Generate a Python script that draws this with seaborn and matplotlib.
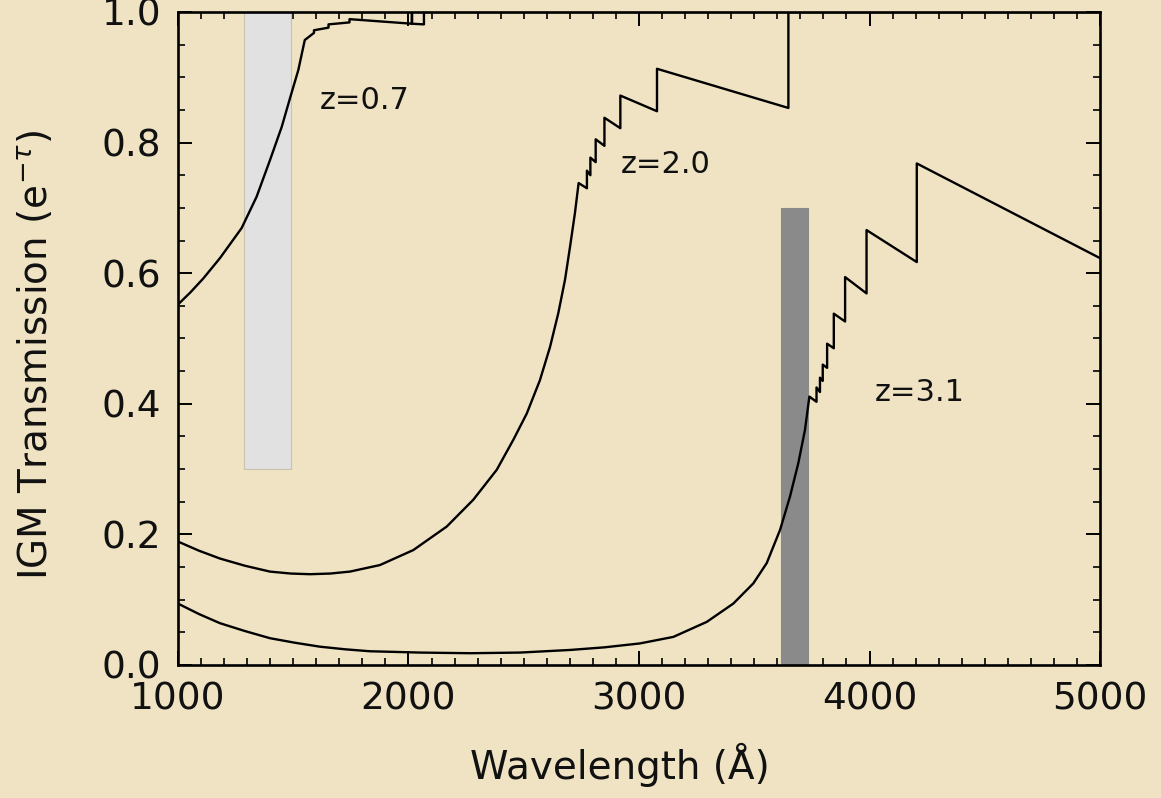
import matplotlib.pyplot as plt
import numpy as np
import pandas as pd
import seaborn as sns
from matplotlib.ticker import MultipleLocator

# IGM transmission curves (wavelength in Angstrom)
lam_z07 = [1000, 1055, 1110, 1182, 1276, 1341, 1399, 1450, 1486, 1522, 1550,
           1590, 1590, 1653, 1653, 1744, 1744, 2015, 2015, 2015, 2067, 2067, 5000]
trans_z07 = [0.552, 0.571, 0.592, 0.623, 0.669, 0.717, 0.773, 0.824, 0.868, 0.911, 0.957,
             0.968, 0.972, 0.976, 0.981, 0.984, 0.989, 0.982, 1.0, 0.982, 0.981, 1.0, 1.0]

lam_z20 = [1000, 1091, 1182, 1290, 1399, 1490, 1573, 1660, 1746, 1876, 2021, 2166, 2281,
           2383, 2455, 2513, 2570, 2614, 2650, 2679, 2701, 2722, 2738,
           2774, 2774, 2789, 2789, 2812, 2812, 2850, 2850, 2919, 2919, 3078, 3078,
           3648, 3648, 5000]
trans_z20 = [0.189, 0.175, 0.163, 0.152, 0.143, 0.140, 0.139, 0.140, 0.143, 0.153, 0.176, 0.212, 0.253,
             0.299, 0.345, 0.385, 0.436, 0.487, 0.539, 0.590, 0.641, 0.692, 0.738,
             0.730, 0.757, 0.750, 0.777, 0.770, 0.805, 0.795, 0.838, 0.822, 0.872, 0.848, 0.913,
             0.853, 1.0, 1.0]

lam_z31 = [1000, 1091, 1182, 1290, 1399, 1508, 1616, 1725, 1833, 2050, 2267, 2484, 2701, 2850,
           3004, 3149, 3294, 3409, 3496, 3554, 3612, 3655, 3691, 3720, 3739,
           3770, 3770, 3785, 3785, 3797, 3797, 3816, 3816, 3845, 3845, 3894, 3894,
           3987, 3987, 4205, 4205, 5000]
trans_z31 = [0.094, 0.078, 0.064, 0.052, 0.041, 0.034, 0.028, 0.024, 0.021, 0.019, 0.018, 0.019, 0.023, 0.027,
             0.033, 0.043, 0.066, 0.094, 0.125, 0.156, 0.207, 0.258, 0.309, 0.360, 0.411,
             0.403, 0.425, 0.418, 0.440, 0.435, 0.460, 0.455, 0.492, 0.485, 0.538, 0.526, 0.594,
             0.569, 0.666, 0.617, 0.768, 0.623]

# shaded filter bands: left edge, right edge, bottom, top
band_left = [1285, 3615]
band_right = [1490, 3735]
band_bottom = [0.3, 0.0]
band_top = [1.0, 0.7]
band_colors = ["#e1e1e1", "#8a8a8a"]

labels = ["z=0.7", "z=2.0", "z=3.1"]
label_x = [1811, 3117, 4219]
label_y = [0.865, 0.766, 0.418]

bg = "#efe3c3"

sns.set_theme(style="ticks")
plt.rcParams["font.family"] = ["DejaVu Sans"]
plt.rcParams["axes.linewidth"] = 1.9
plt.rcParams["xtick.direction"] = "in"
plt.rcParams["ytick.direction"] = "in"

df = pd.concat([
    pd.DataFrame({"wavelength": lam_z07, "trans": trans_z07, "z": "0.7"}),
    pd.DataFrame({"wavelength": lam_z20, "trans": trans_z20, "z": "2.0"}),
    pd.DataFrame({"wavelength": lam_z31, "trans": trans_z31, "z": "3.1"}),
], ignore_index=True)

fig = plt.figure(figsize=(11.61, 7.98), dpi=100, facecolor=bg)
ax = fig.add_axes([0.1533, 0.1667, 0.7942, 0.8183])
ax.set_facecolor(bg)

# filter bands
ax.bar(band_left, np.subtract(band_top, band_bottom),
       width=np.subtract(band_right, band_left), bottom=band_bottom,
       align="edge", color=band_colors, edgecolor=["#c9c1ad", "#8a8a8a"],
       linewidth=0.8, zorder=1)

sns.lineplot(data=df, x="wavelength", y="trans", hue="z",
             palette=["black", "black", "black"], estimator=None, sort=False,
             legend=False, linewidth=1.7, ax=ax, zorder=3)

for txt, x, y in zip(labels, label_x, label_y):
    ax.text(x, y, txt, ha="center", va="center", fontsize=22, color="#111111")

ax.set_xlim(1000, 5000)
ax.set_ylim(0, 1.0)
ax.xaxis.set_major_locator(MultipleLocator(1000))
ax.xaxis.set_minor_locator(MultipleLocator(100))
ax.yaxis.set_major_locator(MultipleLocator(0.2))
ax.yaxis.set_minor_locator(MultipleLocator(0.05))
ax.set_yticks([0, 0.2, 0.4, 0.6, 0.8, 1.0])
ax.set_yticklabels(["0.0", "0.2", "0.4", "0.6", "0.8", "1.0"])
ax.tick_params(which="both", top=True, right=True, colors="black",
               labelsize=27, labelcolor="#111111")
ax.tick_params(which="major", length=10, width=1.4, pad=12)
ax.tick_params(which="minor", length=5, width=1.2)
for s in ax.spines.values():
    s.set_visible(True)
    s.set_color("black")
    s.set_zorder(4)

ax.set_xlabel("Wavelength (Å)", fontsize=28, color="#111111")
ax.set_ylabel(r"IGM Transmission (e$^{-\tau}$)", fontsize=28, color="#111111")
ax.xaxis.set_label_coords(0.479, -0.12)
ax.yaxis.set_label_coords(-0.133, 0.475)

fig.savefig("out.png", dpi=100, facecolor=bg)
